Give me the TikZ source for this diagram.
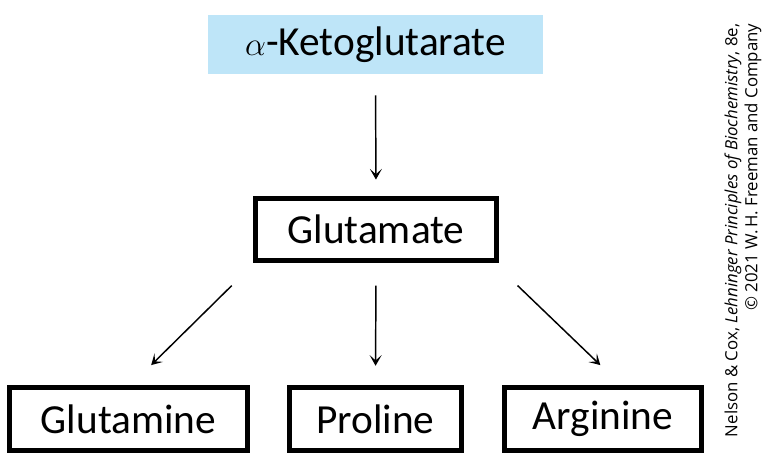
\documentclass[tikz,border=0pt]{standalone}
\usepackage{fontspec}
\setmainfont{Carlito}
\newfontfamily\creditfont{Open Sans}
\usetikzlibrary{positioning,arrows.meta}
\definecolor{ketoblue}{RGB}{190,229,248}

\begin{document}
\begin{tikzpicture}[
      x=0.75pt, y=-0.75pt,
      font=\fontsize{31}{37}\selectfont, >={Stealth[length=8pt,width=9pt,inset=4pt]},
      cmpd/.style={draw, line width=3.6pt, inner sep=0pt, align=center},
      src/.style={fill=ketoblue, inner sep=0pt, align=center},
      ar/.style={->, line width=1.1pt},
      credit/.style={font=\creditfont\fontsize{12.6}{15}\selectfont, align=right, rotate=90, anchor=east}
    ]
    \useasboundingbox (0,0) rectangle (767,457);

    % ===== source (top) =====
    \node[src, minimum width=251.25pt, minimum height=44.25pt] (keto) at (375.5,44.5) {$\alpha$-Ketoglutarate};

    % ===== glutamate (middle) =====
    \node[cmpd, minimum width=180.75pt, minimum height=46.5pt] (glu) at (376,229.5) {Glutamate};

    % ===== products (bottom) =====
    \node[cmpd, minimum width=178.5pt, minimum height=47.25pt] (gln) at (128.5,419) {Glutamine};
    \node[cmpd, minimum width=129pt,   minimum height=47.25pt] (pro) at (375.5,419) {Proline};
    \node[cmpd, minimum width=147.75pt,minimum height=47.25pt] (arg) at (603,419) {Arginine};

    % ===== flow =====
    \draw[ar, shorten <=15.75pt, shorten >=12.4pt] (keto.south) -- (glu.north);
    \draw[ar] ([xshift=-16pt,yshift=-17pt]glu.south west) -- ([xshift=17pt,yshift=15pt]gln.north);
    \draw[ar, shorten <=17pt, shorten >=14.5pt] (glu.south) -- (pro.north);
    \draw[ar] ([xshift=14pt,yshift=-17pt]glu.south east) -- ([xshift=-2pt,yshift=15pt]arg.north);

    % credit line
    \node[credit] (cred) at (743,19) {Nelson \& Cox, \textit{Lehninger Principles of Biochemistry}, 8e,\\\textcopyright{} 2021 W.\,H. Freeman and Company};
\end{tikzpicture}
\end{document}
